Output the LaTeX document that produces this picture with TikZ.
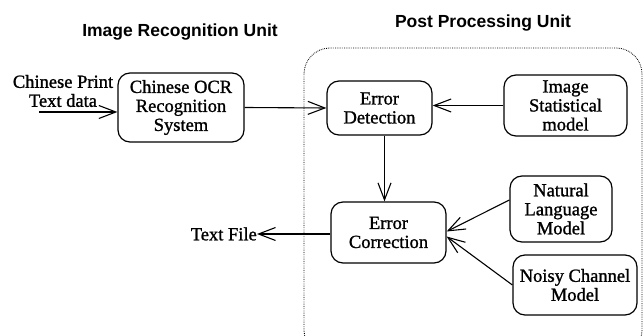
\documentclass[tikz,border=0pt]{standalone}
\usepackage{fontspec}
\setmainfont{Liberation Serif}[FakeBold=1.2, BoldFont={Liberation Serif}, BoldFeatures={FakeBold=1.2}]
\newfontfamily\titlefont{Liberation Sans}
\usetikzlibrary{arrows.meta}
\tikzset{
  unitbox/.style={draw, line width=1.2pt, rounded corners=12pt, align=center, inner sep=0pt,
    font=\bfseries\fontsize{18.5}{19}\selectfont},
  plain/.style={align=center, inner sep=0pt, font=\bfseries\fontsize{18.5}{19}\selectfont},
  title/.style={inner sep=0pt, font=\titlefont\bfseries\fontsize{17.5}{20}\selectfont},
  conn/.style={line width=1.1pt, -{Straight Barb[length=17pt,width=13pt,line width=1.1pt]}},
  region/.style={draw, line width=0.9pt, dash pattern=on 0.7pt off 1.1pt, rounded corners=26pt}
}
\begin{document}
\begin{tikzpicture}[x=1pt,y=-1pt]
\useasboundingbox (0,0) rectangle (644,336);
\clip (0,0) rectangle (644,336);
\draw[region] (304,48) rectangle (642,356);
\node[title] (t1) at (180,32) {Image Recognition Unit};
\node[title] (t2) at (483,23) {Post Processing Unit};
\node[plain] (inp) at (63,91) {Chinese Print\\Text data};
\coordinate (instart) at (39,112);
\node[unitbox, minimum width=126pt, minimum height=69pt] (ocr) at (181,107.5) {Chinese OCR\\Recognition\\System};
\node[unitbox, minimum width=105pt, minimum height=54pt] (ed) at (379.5,108) {Error\\Detection};
\node[unitbox, minimum width=123pt, minimum height=61pt] (ism) at (565.5,105.5) {Image\\Statistical\\model};
\node[unitbox, minimum width=115pt, minimum height=61pt] (ec) at (388.5,232.5) {Error\\Correction};
\node[unitbox, minimum width=102pt, minimum height=66pt] (nlm) at (561,209) {Natural\\Language\\Model};
\node[unitbox, minimum width=124pt, minimum height=60pt] (ncm) at (575,285) {Noisy Channel\\Model};
\node[plain, anchor=east] (tf) at (257,234) {Text File};
\draw[conn] (instart) -- (ocr.west |- instart);
\draw[conn] (ocr.east) -- (ed.west);
\draw[conn] (ism.west) -- (ed.east |- ism.west);
\draw[conn] ([xshift=5pt]ed.south) -- ([xshift=5pt]ed.south |- ec.north);
\draw[conn] (ec.west |- tf.east) -- (tf.east);
\draw[conn] ([yshift=9pt]nlm.west) -- ([yshift=1pt]ec.east);
\draw[conn] (ncm.west) -- ([yshift=-4pt]ec.east);
\end{tikzpicture}
\end{document}
